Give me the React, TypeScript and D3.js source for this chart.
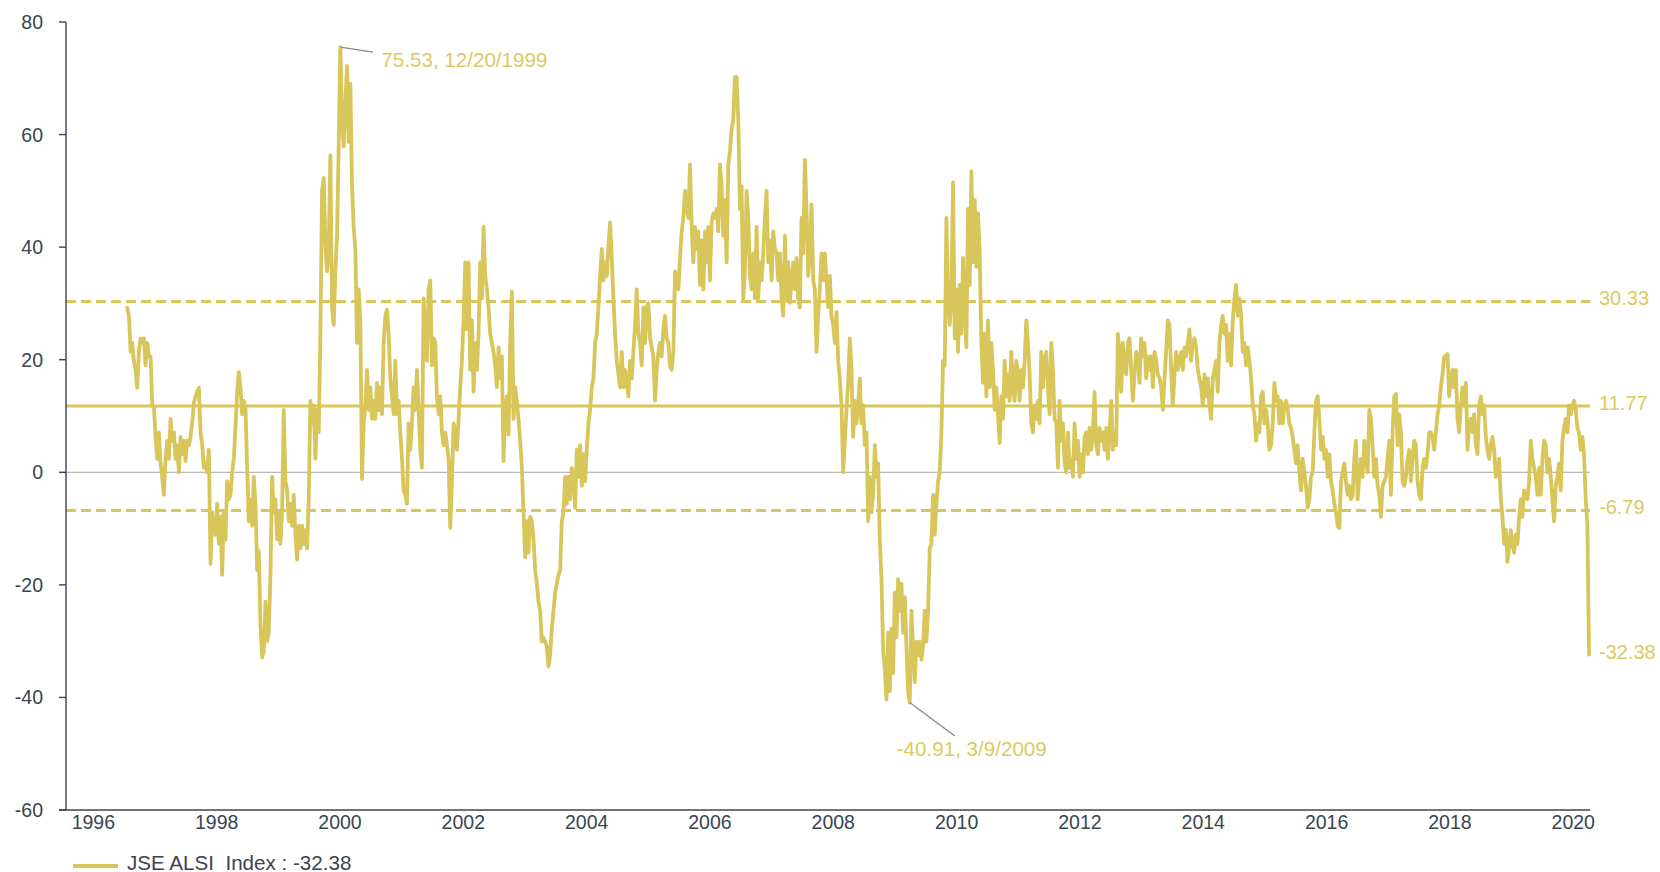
import React, { useMemo } from 'react';
import * as d3 from 'd3';

// ---- data (rolling return of JSE ALSI, %), sampled at a regular step ----
const seriesStartYear = 1996.4935;
const seriesStepYears = 0.027;

const values1996to2002 = [
  29.2, 27.8, 21.4, 23, 19.8, 18.2, 15, 21.4, 23.8, 23, 23.8, 19, 23, 20.6,
  20.6, 11.9, 11.5, 6.3, 2.4, 7.1, 1.6, -0.8, -4, 2.4, 5.6, 2.4, 9.5, 5.6, 7.1, 2.4, 4.8, 0, 6.3, 3.2, 5.6, 2, 5.6, 4.8, 6.3, 8.7, 12.3, 13.5, 14.3, 15, 7.1, 4.8, 0.8, 1.6, 0, 4,
  -16.3, -7.1, -10, -11.1, -5.6, -12.7, -7.9, -18.2, -7, -12, -1.6, -4.8, -4, 0, 2.4, 8, 14.3, 17.8, 15, 10.3, 12.7, 11.5, 1, -8.7, -4.8, -9.5, -0.8, -5.6, -17.4, -14, -27, -32.9, -31.7, -23, -30, -28.5, -18.2, -0.8, -7.1, -4.8,
  -11.9, -7.1, -12.7, -7.1, 11.1, -1.6, -3.2, -8.7, -5.6, -9.5, -4, -11.1, -15.5, -9.5, -13.5, -9.5, -12.7, -10.3, -13.5, -4.8, 12.7, 8.7, 11.9, 2.4, 11.1, 7.1, 24.6, 50,
  52.3, 40.4, 35.7, 39.6, 56.3, 29.3, 26.2, 35.7, 42, 57.9, 75.53, 62.6, 57.9, 65.8, 72.2, 58.7, 69, 50.8, 43.6, 39.6, 23, 32.5, 27, -1.2,
  8.7, 11.9, 18.2, 11.1, 15.1, 9.5, 12.7, 9.5, 15.9, 11.1, 15.1, 10.3, 23, 27.8, 28.9, 24.6, 16.7, 13.5, 10.3, 19.8, 10.3, 12.7, 7.1,
  2.4, -3.2, -4, -5.6, 8.7, 4, 8.7, 15.1, 11.1, 18.2, 11.1, 4, 0.8, 30.9, 24.6, 19.8, 32.5, 34.1, 19, 23.8, 23, 13.5, 10.3, 13.5, 7.1, 4.8, 7.1, 4.8, 2.4, -9.9, -1.6, 8.7, 7.1, 4, 9.5, 15.1, 19.8, 27, 37.3, 25.4, 37.3, 18.2, 27, 14.3, 23, 18.2, 24.6, 37.3, 30.9, 43.6, 34.9, 32.5, 29.3,
];

const values2002to2008 = [
  24.6, 23.0, 21.4, 19.0, 15.1, 22.2, 16.7, 20.6, 2.0, 11.1,
  13.5, 6.7, 23.0, 32.1, 9.5, 15.1, 12.7, 9.5, 5.6, 0.8,
  -7.1, -15.1, -8.7, -14.3, -7.9, -8.7, -11.9, -17.4, -19.8, -23.0,
  -24.6, -30.1, -29.3, -30.1, -30.9, -34.5, -32.5, -27.8, -24.6, -21.4,
  -19.8, -18.2, -17.4, -8.7, -7.1, -0.8, -5.6, -0.8, -4.8, 0.8,
  -0.8, -6.3, 4.0, -0.8, 4.8, -2.4, 3.2, -1.6, 4.0, 8.7,
  11.1, 15.1, 16.7, 23.0, 24.6, 29.3, 34.9, 39.7, 34.1, 37.3,
  34.9, 40.4, 44.4, 38.1, 30.9, 24.6, 19.8, 17.4, 15.1, 21.4,
  15.1, 18.2, 15.9, 13.5, 19.8, 16.7, 21.4, 26.2, 32.5, 24.6,
  23.0, 19.0, 29.3, 23.0, 29.3, 30.1, 23.8, 22.2, 20.6, 12.7,
  18.2, 21.4, 23.0, 20.6, 25.4, 27.8, 23.8, 23.0, 19.0, 18.2,
  21.4, 35.7, 34.1, 32.5, 38.1, 42.8, 45.2, 50.0, 46.8, 45.2,
  54.7, 43.6, 37.3, 43.6, 39.7, 42.8, 33.3, 41.2, 32.5, 42.8,
  37.3, 43.6, 34.1, 44.4, 46.0, 45.2, 46.8, 42.8, 54.7, 50.8,
  42.0, 48.4, 37.3, 54.7, 57.1, 61.1, 62.6, 70.2, 70.2, 62.6,
  46.8, 50.8, 30.9, 35.7, 50.0, 45.2, 34.9, 32.5, 38.9, 30.9,
  43.6, 30.9, 37.3, 34.1, 38.9, 45.2, 50.0, 37.3, 41.2, 34.1,
  42.8, 39.7, 38.9, 34.1, 38.9, 30.9, 27.8, 42.0, 30.9, 37.3,
  30.1, 34.1, 37.3, 32.5, 38.1, 30.9, 29.3, 45.2, 38.9, 55.5,
  46.8, 34.9, 38.9, 47.6, 34.1, 32.5, 21.4, 27.8, 32.5, 38.9,
  34.1, 38.9, 34.1, 29.3, 34.9, 27.8, 26.2, 23.0, 28.5, 19.8,
  16.7, 11.9, 0.0, 5.6, 11.1, 15.9, 23.8, 18.2, 6.3, 12.7,
  8.7, 11.9,
];

const values2008to2014 = [
  16.7, 8.7, 11.9, 4.8, 7.1, -8.7, -0.8, -7.1, -4.0, 4.8,
  -0.8, 1.6, -11.9, -19.0, -31.7, -34.9, -40.4, -28.5, -38.9, -27.8,
  -35.7, -21.4, -29.3, -19.0, -24.6, -19.8, -28.5, -22.2, -30.9, -38.9,
  -40.91, -24.6, -30.9, -37.3, -30.1, -32.5, -30.1, -33.3, -30.9, -24.6,
  -30.1, -24.6, -13.5, -12.7, -4.0, -11.1, -5.6, -1.6, 0.0, 7.1,
  19.8, 19.0, 45.2, 30.9, 26.2, 31.7, 51.5, 23.8, 32.5, 21.4,
  33.3, 24.6, 38.1, 29.3, 22.2, 46.8, 33.3, 53.5, 37.3, 48.4,
  36.5, 46.0, 38.9, 23.0, 15.9, 24.6, 13.5, 27.0, 15.1, 23.0,
  18.2, 11.1, 15.1, 10.3, 5.2, 13.5, 9.5, 19.8, 13.5, 17.4,
  12.7, 21.4, 15.1, 12.7, 19.8, 17.4, 12.7, 18.2, 15.1, 19.8,
  27.0, 23.0, 17.4, 8.7, 7.1, 11.9, 9.5, 12.7, 8.7, 21.4,
  15.1, 19.8, 21.4, 15.1, 10.3, 23.0, 18.2, 9.5, 8.7, 0.8,
  12.7, 5.6, 8.7, 1.6, 0.0, 7.1, 0.8, 2.4, -0.8, 8.7,
  2.4, 5.6, -0.8, 3.2, 0.0, 6.3, 7.1, 3.2, 7.9, 4.0,
  7.1, 14.3, 4.8, 3.2, 7.9, 5.6, 7.1, 4.0, 7.9, 2.4,
  7.1, 12.7, 4.0, 7.1, 4.8, 24.6, 21.4, 14.3, 23.0, 18.2,
  17.4, 23.0, 23.8, 18.2, 12.7, 17.4, 21.4, 20.6, 15.9, 23.8,
  20.6, 23.0, 16.7, 20.6, 18.2, 20.6, 15.1, 21.4, 19.8, 17.4,
  16.7, 15.1, 11.1, 16.7, 21.4, 27.0, 26.2, 18.2, 11.9, 17.4,
  21.4, 18.2, 19.8, 21.4, 18.2, 22.2, 20.6, 23.0, 25.4, 19.8,
  23.0, 23.8, 22.2, 18.2, 16.7, 15.1, 11.9, 17.4, 13.5, 16.7,
  11.9, 9.5, 16.7, 18.2, 19.8, 14.3, 23.0, 26.2, 27.8, 24.6,
  26.2, 19.8,
];

const values2014to2020 = [
  24.6, 19.0, 27.0, 30.9, 33.3, 27.8, 30.9, 27.8, 21.4, 23.0,
  19.0, 22.2, 19.8, 16.7, 11.9, 10.3, 5.6, 8.7, 7.1, 13.5,
  14.3, 8.7, 11.1, 8.7, 4.0, 4.8, 8.7, 15.9, 12.7, 13.5,
  8.7, 12.7, 8.7, 11.9, 12.7, 11.1, 8.7, 7.9, 6.3, 4.0,
  1.6, 4.8, 0.0, -3.2, 2.4, 0.0, -2.4, -6.3, -4.8, -0.8,
  0.0, 7.1, 12.7, 13.5, 9.5, 4.0, 6.3, 2.4, 4.0, -0.8,
  3.2, -1.6, -3.2, -5.6, -7.1, -9.5, -9.9, -1.6, 0.0, 1.6,
  -1.6, -4.0, -2.4, -4.8, -4.0, 2.4, 5.6, -4.8, -0.8, 2.4,
  -0.8, 5.6, 2.4, 0.0, 11.1, 9.5, 4.8, -0.8, 2.4, -2.4,
  -4.0, -7.9, -2.4, -1.6, -0.8, 2.4, 5.6, -4.0, 7.1, 13.5,
  13.9, 4.8, 10.3, 7.1, -1.6, -2.4, -0.8, 2.4, 4.0, -1.6,
  2.4, 5.6, 4.8, -1.6, -4.0, -4.8, 0.8, 2.4, 0.8, 3.2,
  7.1, 7.1, 6.3, 4.0, 7.1, 10.3, 11.9, 15.1, 17.4, 20.6,
  20.6, 21.0, 13.5, 15.9, 18.2, 15.1, 18.2, 9.5, 7.1, 11.9,
  15.1, 11.9, 15.9, 4.0, 8.7, 9.5, 7.1, 10.3, 4.8, 3.2,
  11.9, 13.5, 10.3, 11.9, 6.3, 4.0, 2.4, 4.8, 6.3, 4.0,
  -0.8, 0.0, 2.4, -4.8, -7.9, -12.7, -10.3, -15.9, -13.5, -10.3,
  -12.7, -14.3, -11.1, -12.7, -7.9, -4.8, -7.9, -3.2, -4.0, -4.8,
  -1.6, 5.6, 2.4, 0.8, -0.8, -4.0, 0.8, -4.0, 2.4, 5.6,
  4.8, 0.0, 2.4, -0.8, -4.8, -8.7, -2.4, -0.8, 1.6, -3.2,
  5.6, 7.9, 9.5, 7.1, 11.9, 10.3, 11.9, 12.7, 11.1, 7.9,
  7.1, 4.0, 6.3, 3.2, -4.8, -9.5, -32.38,
];

const yTickValues = [-60, -40, -20, 0, 20, 40, 60, 80];
const xTickYears = [1996, 1998, 2000, 2002, 2004, 2006, 2008, 2010, 2012, 2014, 2016, 2018, 2020];
const meanValue = 11.77;
const upperBandValue = 30.33;
const lowerBandValue = -6.79;
const peakLabel = '75.53, 12/20/1999';
const troughLabel = '-40.91, 3/9/2009';
const seriesName = 'JSE ALSI\u00a0\u00a0Index';

const GOLD = '#d9c65a';
const GOLD_TEXT = '#dcc962';
const AXIS = '#3b4452';
const FONT = '"Liberation Sans", Arial, Helvetica, sans-serif';

export default function App() {
  const width = 1660;
  const height = 872;

  const allValues = useMemo(
    () => [...values1996to2002, ...values2002to2008, ...values2008to2014, ...values2014to2020],
    []
  );
  const points = useMemo(
    () => allValues.map((v, i) => ({ t: seriesStartYear + i * seriesStepYears, v })),
    [allValues]
  );

  const x = d3.scaleLinear().domain([1995.5, 2020.215]).range([66, 1590]);
  const y = d3.scaleLinear().domain([-60, 80]).range([810, 22]);

  const line = d3
    .line<{ t: number; v: number }>()
    .x((d) => x(d.t))
    .y((d) => y(d.v));

  const last = points[points.length - 1];
  const peak = points.reduce((a, b) => (b.v > a.v ? b : a));
  const trough = points.reduce((a, b) => (b.v < a.v ? b : a));
  const px = x(peak.t), py = y(peak.v);
  const tx = x(trough.t), ty = y(trough.v);

  const x0 = x.range()[0];
  const x1 = x.range()[1];

  const refLines = [
    { v: upperBandValue, dash: '10,5' },
    { v: meanValue, dash: undefined },
    { v: lowerBandValue, dash: '10,5' },
  ];

  return (
    <div style={{ position: 'absolute', left: 0, top: 0 }}>
      <svg width={width} height={height} style={{ display: 'block', background: '#fff' }} fontFamily={FONT}>
        {/* zero line */}
        <line x1={x0} x2={x1} y1={y(0)} y2={y(0)} stroke="#a8a8a8" strokeWidth={1} />

        {/* reference lines */}
        {refLines.map((r) => (
          <line
            key={r.v}
            x1={x0}
            x2={x1}
            y1={y(r.v)}
            y2={y(r.v)}
            stroke={GOLD}
            strokeWidth={3}
            strokeDasharray={r.dash}
          />
        ))}

        {/* series */}
        <path d={line(points) || ''} fill="none" stroke={GOLD} strokeWidth={3.8} strokeLinejoin="round" strokeLinecap="round" />

        {/* right side labels */}
        {refLines.map((r) => (
          <text key={'l' + r.v} x={1599} y={y(r.v) + 3.6} fill={GOLD_TEXT} fontSize={20}>
            {r.v.toFixed(2)}
          </text>
        ))}
        <text x={1599} y={y(last.v) + 4.5} fill={GOLD_TEXT} fontSize={20}>
          {last.v.toFixed(2)}
        </text>

        {/* annotations */}
        <line x1={px} y1={py} x2={px + 32.6} y2={py + 5} stroke="#8a8a8a" strokeWidth={1.3} />
        <text x={px + 41} y={py + 20} fill={GOLD_TEXT} fontSize={20.6}>
          {peakLabel}
        </text>
        <line x1={tx} y1={ty} x2={tx + 45} y2={ty + 33.5} stroke="#8a8a8a" strokeWidth={1.3} />
        <text x={tx - 13} y={ty + 53.5} fill={GOLD_TEXT} fontSize={20.6}>
          {troughLabel}
        </text>

        {/* axes */}
        <line x1={x0} x2={x0} y1={y(80)} y2={y(-60)} stroke={AXIS} strokeWidth={1.4} />
        <line x1={59} x2={x1} y1={y(-60)} y2={y(-60)} stroke={AXIS} strokeWidth={1.4} />
        {yTickValues.map((v) => (
          <g key={v}>
            <line x1={59} x2={x0} y1={y(v)} y2={y(v)} stroke={AXIS} strokeWidth={1.4} />
            <text x={43} y={y(v) + 7} textAnchor="end" fill={AXIS} fontSize={19.5}>
              {v}
            </text>
          </g>
        ))}
        {xTickYears.map((yr) => (
          <text key={yr} x={x(yr) - 3.5} y={828.5} textAnchor="middle" fill={AXIS} fontSize={19.5}>
            {yr}
          </text>
        ))}

        {/* legend */}
        <line x1={73} x2={118} y1={866} y2={866} stroke={GOLD} strokeWidth={4} />
        <text x={127} y={869.5} fill={AXIS} fontSize={20.6}>
          {`${seriesName} : ${last.v.toFixed(2)}`}
        </text>
      </svg>
    </div>
  );
}
